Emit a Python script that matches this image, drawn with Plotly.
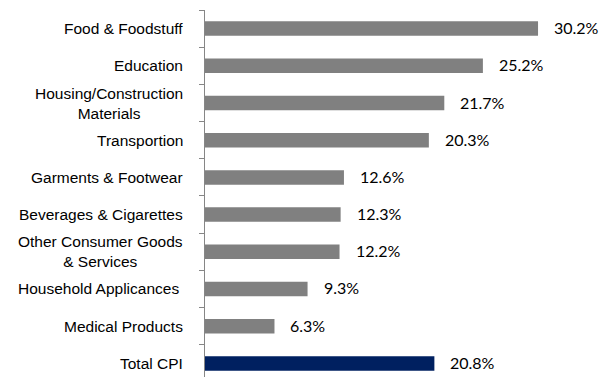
import plotly.graph_objects as go

# CPI change by component
categories = [
    "Food & Foodstuff",
    "Education",
    "Housing/Construction<br>Materials",
    "Transportion",
    "Garments & Footwear",
    "Beverages & Cigarettes",
    "Other Consumer Goods<br>& Services",
    "Household Applicances\u00a0",
    "Medical Products",
    "Total CPI",
]
values = [30.2, 25.2, 21.7, 20.3, 12.6, 12.3, 12.2, 9.3, 6.3, 20.8]
value_labels = ["30.2%", "25.2%", "21.7%", "20.3%", "12.6%", "12.3%", "12.2%", "9.3%", "6.3%", "20.8%"]

GREY = "#808080"
NAVY = "#002060"
AXIS = "#868686"

positions = list(range(len(categories)))
colors = [GREY] * (len(categories) - 1) + [NAVY]

fig = go.Figure()
fig.add_trace(go.Bar(
    orientation="h",
    y=positions,
    x=values,
    width=0.39,
    marker=dict(color=colors, line=dict(width=0)),
    hoverinfo="skip",
))

annotations = []
for i, (cat, v, lab) in enumerate(zip(categories, values, value_labels)):
    annotations.append(dict(
        x=0, xref="paper", y=i, yref="y", text=cat,
        xanchor="right", yanchor="middle", align="center", xshift=-20,
        showarrow=False,
        font=dict(family="Liberation Sans, Arial, sans-serif", size=15.5, color="#000000"),
    ))
    annotations.append(dict(
        x=v, xref="x", y=i, yref="y", text=lab,
        xanchor="left", yanchor="middle", xshift=14, yshift=1,
        showarrow=False,
        font=dict(family="Lato, Calibri, sans-serif", size=16, color="#000000"),
    ))

boundaries = [p - 0.5 for p in positions] + [len(positions) - 0.5]

fig.update_layout(
    width=602, height=377,
    margin=dict(l=205, r=0, t=10, b=0),
    paper_bgcolor="white", plot_bgcolor="white",
    showlegend=False,
    annotations=annotations,
    xaxis=dict(range=[0, 36.0], visible=False, fixedrange=True),
    yaxis=dict(
        range=[9.366, -0.5],
        tickvals=boundaries,
        ticktext=[""] * len(boundaries),
        ticks="outside", ticklen=5, tickcolor=AXIS, tickwidth=1,
        showline=True, linecolor=AXIS, linewidth=1,
        showgrid=False, zeroline=False, fixedrange=True,
    ),
)

fig.write_html("out.html")
